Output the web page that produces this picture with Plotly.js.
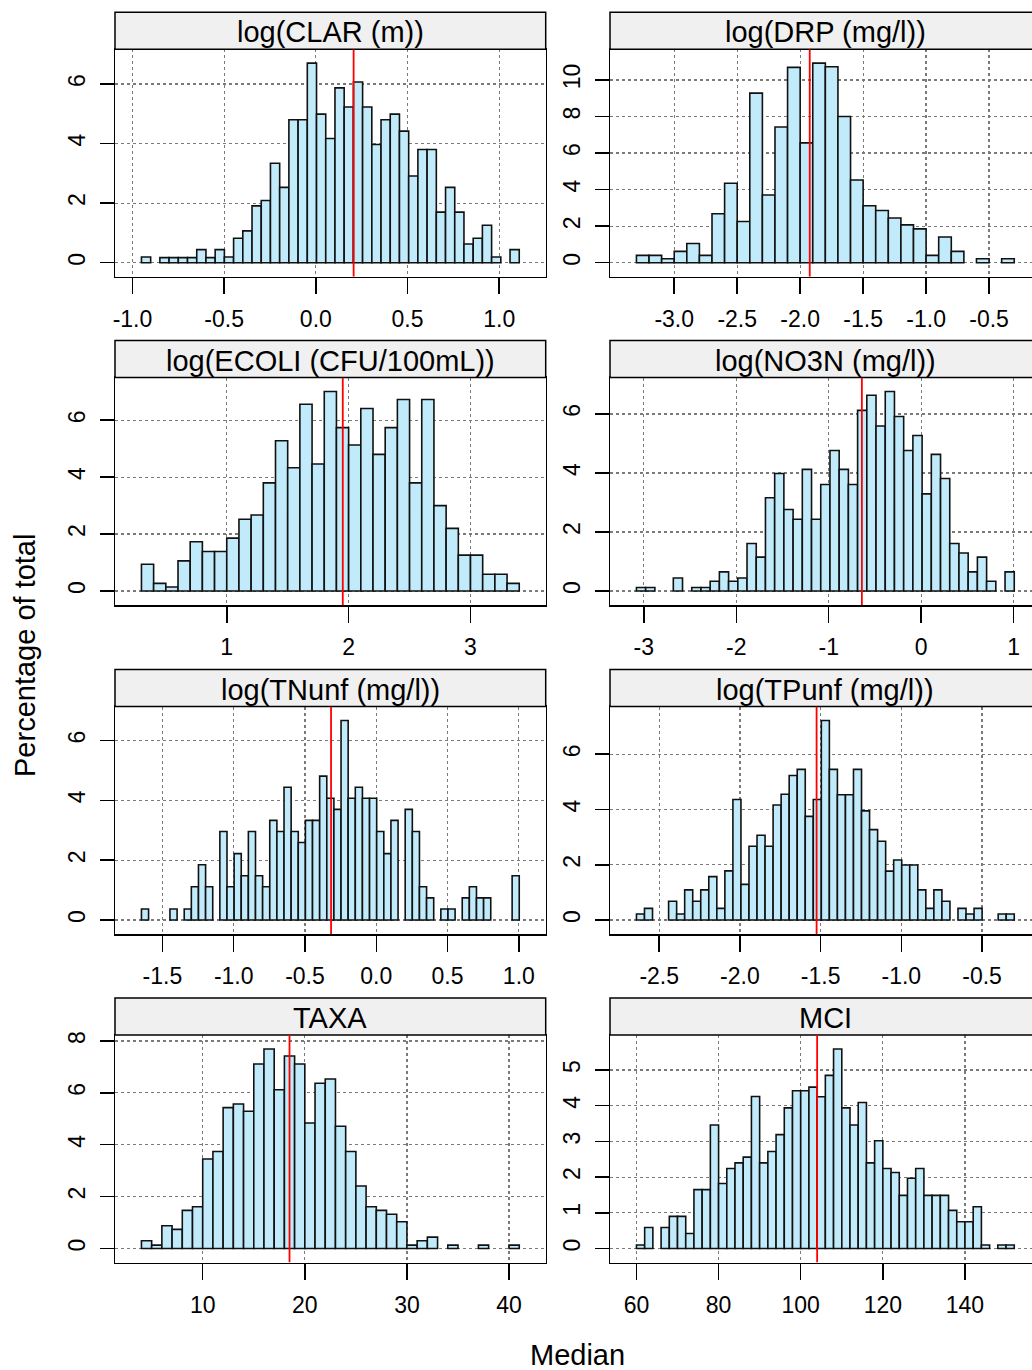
<!DOCTYPE html>
<html>
<head>
<meta charset="utf-8">
<script src="https://cdn.plot.ly/plotly-3.0.1.min.js"></script>
<style>
  html, body { margin: 0; padding: 0; overflow: hidden; background: #fff; }
  #chart { width: 1050px; height: 1370px; }
</style>
</head>
<body>
<div id="chart"></div>
<script>
// ---------------- DATA ----------------
const panelTitles = ["log(CLAR (m))", "log(DRP (mg/l))", "log(ECOLI (CFU/100mL))", "log(NO3N (mg/l))",
                     "log(TNunf (mg/l))", "log(TPunf (mg/l))", "TAXA", "MCI"];

// histogram breaks: first break and bin width per panel
const binStart = [-0.951, -3.30, 0.30, -3.08, -1.647, -2.641, 4, 60];
const binWidth = [0.05025, 0.1, 0.1, 0.0997, 0.05, 0.0498, 1, 2];

// percentage of total per bin
const clarPct = [0.19,0,0.17,0.17,0.17,0.17,0.44,0.17,0.44,0.19,0.82,1.07,1.91,2.09,3.34,2.53,4.80,4.80,6.70,4.99,
                 4.17,5.87,5.23,6.07,5.23,3.97,4.80,4.99,4.42,2.91,3.80,3.80,1.70,2.53,1.70,0.63,0.82,1.26,0.19,0,0.44];
const drpPct = [0.40,0.40,0.22,0.62,1.05,0.40,2.68,4.35,2.26,9.28,3.71,7.43,10.69,6.56,10.92,10.72,8.00,4.53,3.12,2.86,
                2.45,2.07,1.85,0.40,1.41,0.62,0,0.22,0,0.22];
const ecoliPct = [0.94,0.27,0.14,1.06,1.73,1.39,1.39,1.86,2.52,2.67,3.80,5.28,4.33,6.56,4.46,7.01,5.74,5.13,6.41,4.80,
                  5.74,6.73,3.80,6.73,3.00,2.20,1.26,1.26,0.59,0.59,0.27];
const no3nPct = [0.12,0.12,0,0,0.44,0,0.12,0.12,0.33,0.65,0.33,0.44,1.61,1.15,3.16,3.98,2.76,2.43,4.12,2.43,
                 3.61,4.76,4.12,3.61,6.12,6.63,5.59,6.76,5.91,4.76,5.27,3.29,4.63,3.81,1.61,1.29,0.65,1.15,0.33,0,0.65];
const tnPct = [0.37,0,0,0,0.37,0,0.37,1.11,1.85,1.11,0,2.96,1.11,2.22,1.48,2.96,1.48,1.11,3.33,2.96,
               4.44,2.96,2.59,3.33,3.33,4.81,4.07,3.70,6.67,4.07,4.44,4.07,4.07,2.96,2.22,3.33,0,3.70,2.96,1.11,
               0.74,0,0.37,0.37,0,0.74,1.11,0.74,0.74,0,0,0,1.48];
const tpPct = [0.22,0.42,0,0,0.68,0.22,1.09,0.68,1.09,1.57,0.42,1.78,4.36,1.29,2.67,3.07,2.67,4.16,4.55,5.23,
               5.45,3.75,4.36,7.22,5.45,4.53,4.53,5.45,3.95,3.27,2.85,1.77,2.17,1.99,1.99,1.09,0.42,1.09,0.68,0,
               0.42,0.22,0.42,0,0,0.22,0.22];
const taxaPct = [0.30,0.13,0.88,0.74,1.47,1.61,3.45,3.74,5.43,5.57,5.29,7.11,7.69,6.12,7.42,7.11,4.84,6.37,6.53,4.71,
                 3.74,2.41,1.61,1.47,1.32,1.03,0.13,0.30,0.44,0,0.13,0,0,0.13,0,0,0.13];
const mciPct = [0.10,0.59,0,0.59,0.90,0.90,0.42,1.65,1.65,3.46,1.82,2.24,2.40,2.56,4.26,2.40,2.72,3.19,3.94,4.42,
                4.42,4.52,4.25,4.85,5.59,3.94,3.46,4.09,2.40,3.02,2.24,2.13,1.49,1.97,2.24,1.49,1.49,1.49,1.07,0.75,
                0.75,1.17,0.10,0,0.10,0.10];
const pctSeries = [clarPct, drpPct, ecoliPct, no3nPct, tnPct, tpPct, taxaPct, mciPct];

// medians (red reference lines)
const medians = [0.206, -1.924, 1.952, -0.641, -0.317, -1.525, 18.5, 104];

// tick values and labels
const xTickVals = [[-1,-0.5,0,0.5,1], [-3,-2.5,-2,-1.5,-1,-0.5], [1,2,3], [-3,-2,-1,0,1],
                   [-1.5,-1,-0.5,0,0.5,1], [-2.5,-2,-1.5,-1,-0.5], [10,20,30,40], [60,80,100,120,140]];
const xTickText = [["-1.0","-0.5","0.0","0.5","1.0"], ["-3.0","-2.5","-2.0","-1.5","-1.0","-0.5"], ["1","2","3"],
                   ["-3","-2","-1","0","1"], ["-1.5","-1.0","-0.5","0.0","0.5","1.0"],
                   ["-2.5","-2.0","-1.5","-1.0","-0.5"], ["10","20","30","40"], ["60","80","100","120","140"]];
const yTickVals = [[0,2,4,6], [0,2,4,6,8,10], [0,2,4,6], [0,2,4,6], [0,2,4,6], [0,2,4,6], [0,2,4,6,8], [0,1,2,3,4,5]];

const xTitle = "Median";
const yTitle = "Percentage of total";

// ---------------- LAYOUT / STYLE ----------------
const W = 1050, H = 1370;
const FONT = "Liberation Sans, Arial, sans-serif";
const colX = [[115, 545.7], [610, 1040.7]];
const rowTop = [49.2, 377.5, 706.5, 1035];
const plotH = 227.5, stripH = 37;
const PAD = 0.07;
const GRID = {showgrid: true, gridcolor: "#7a7a7a", griddash: "3px,3px", gridwidth: 1.2};

const traces = [], shapes = [], annotations = [];
const layout = {
  width: W, height: H,
  margin: {l: 0, r: 0, t: 0, b: 0, pad: 0},
  paper_bgcolor: "#fff", plot_bgcolor: "#fff",
  showlegend: false, bargap: 0,
  font: {family: FONT, color: "#000"}
};

for (let k = 0; k < 8; k++) {
  const col = k % 2, row = Math.floor(k / 2);
  const sfx = k === 0 ? "" : String(k + 1);
  const pct = pctSeries[k];
  const n = pct.length;
  const lo = binStart[k], hi = binStart[k] + n * binWidth[k];
  const w = hi - lo;
  const xr = [lo - PAD * w, hi + PAD * w];
  const ymax = Math.max(...pct);
  const yr = [-PAD * ymax, ymax * (1 + PAD)];

  const centers = pct.map((_, i) => binStart[k] + (i + 0.5) * binWidth[k]);
  traces.push({
    type: "bar", x: centers, y: pct.map(v => v === 0 ? null : v),
    width: binWidth[k],
    marker: {color: "#c1ebfa", line: {color: "#111", width: 1.6}},
    xaxis: "x" + sfx, yaxis: "y" + sfx, hoverinfo: "skip"
  });

  const yTopPx = rowTop[row], yBotPx = rowTop[row] + plotH;
  const xd = [colX[col][0] / W, colX[col][1] / W];
  const yd = [1 - yBotPx / H, 1 - yTopPx / H];

  layout["xaxis" + sfx] = Object.assign({
    domain: xd, range: xr, anchor: "y" + sfx,
    showline: true, mirror: true, linecolor: "#000", linewidth: 1.5,
    ticks: "outside", ticklen: 16, tickwidth: 1.5, tickcolor: "#000",
    tickmode: "array", tickvals: xTickVals[k], ticktext: xTickText[k],
    ticklabelstandoff: 5,
    tickfont: {family: FONT, size: 23, color: "#000"},
    zeroline: false, fixedrange: true
  }, GRID);
  layout["yaxis" + sfx] = Object.assign({
    domain: yd, range: yr, anchor: "x" + sfx,
    showline: true, mirror: true, linecolor: "#000", linewidth: 1.5,
    ticks: "outside", ticklen: 14, tickwidth: 1.5, tickcolor: "#000",
    tickmode: "array", tickvals: yTickVals[k], ticktext: yTickVals[k].map(String),
    tickangle: -90, ticklabelstandoff: 5,
    tickfont: {family: FONT, size: 23, color: "#000"},
    zeroline: false, fixedrange: true
  }, GRID);

  // strip
  shapes.push({
    type: "rect", xref: "paper", yref: "paper",
    x0: xd[0], x1: xd[1], y0: 1 - yTopPx / H, y1: 1 - (yTopPx - stripH) / H,
    fillcolor: "#f0f0f0", line: {color: "#000", width: 1.5}
  });
  annotations.push({
    xref: "paper", yref: "paper", x: (xd[0] + xd[1]) / 2, y: 1 - (yTopPx - stripH / 2 + 1.5) / H,
    xanchor: "center", yanchor: "middle", showarrow: false,
    text: panelTitles[k], font: {family: FONT, size: 29, color: "#000"}
  });
  // median line
  shapes.push({
    type: "line", xref: "x" + sfx, yref: "y" + sfx,
    x0: medians[k], x1: medians[k], y0: yr[0], y1: yr[1],
    line: {color: "#ff0000", width: 1.8}
  });
}

annotations.push({
  xref: "paper", yref: "paper", x: 577.5 / W, y: 1 - 1355 / H,
  xanchor: "center", yanchor: "middle", showarrow: false,
  text: xTitle, font: {family: FONT, size: 29, color: "#000"}
});
annotations.push({
  xref: "paper", yref: "paper", x: 25 / W, y: 1 - 656 / H,
  xanchor: "center", yanchor: "middle", showarrow: false, textangle: -90,
  text: yTitle, font: {family: FONT, size: 29, color: "#000"}
});

layout.shapes = shapes;
layout.annotations = annotations;

Plotly.newPlot("chart", traces, layout, {staticPlot: true, displayModeBar: false});
</script>
</body>
</html>
